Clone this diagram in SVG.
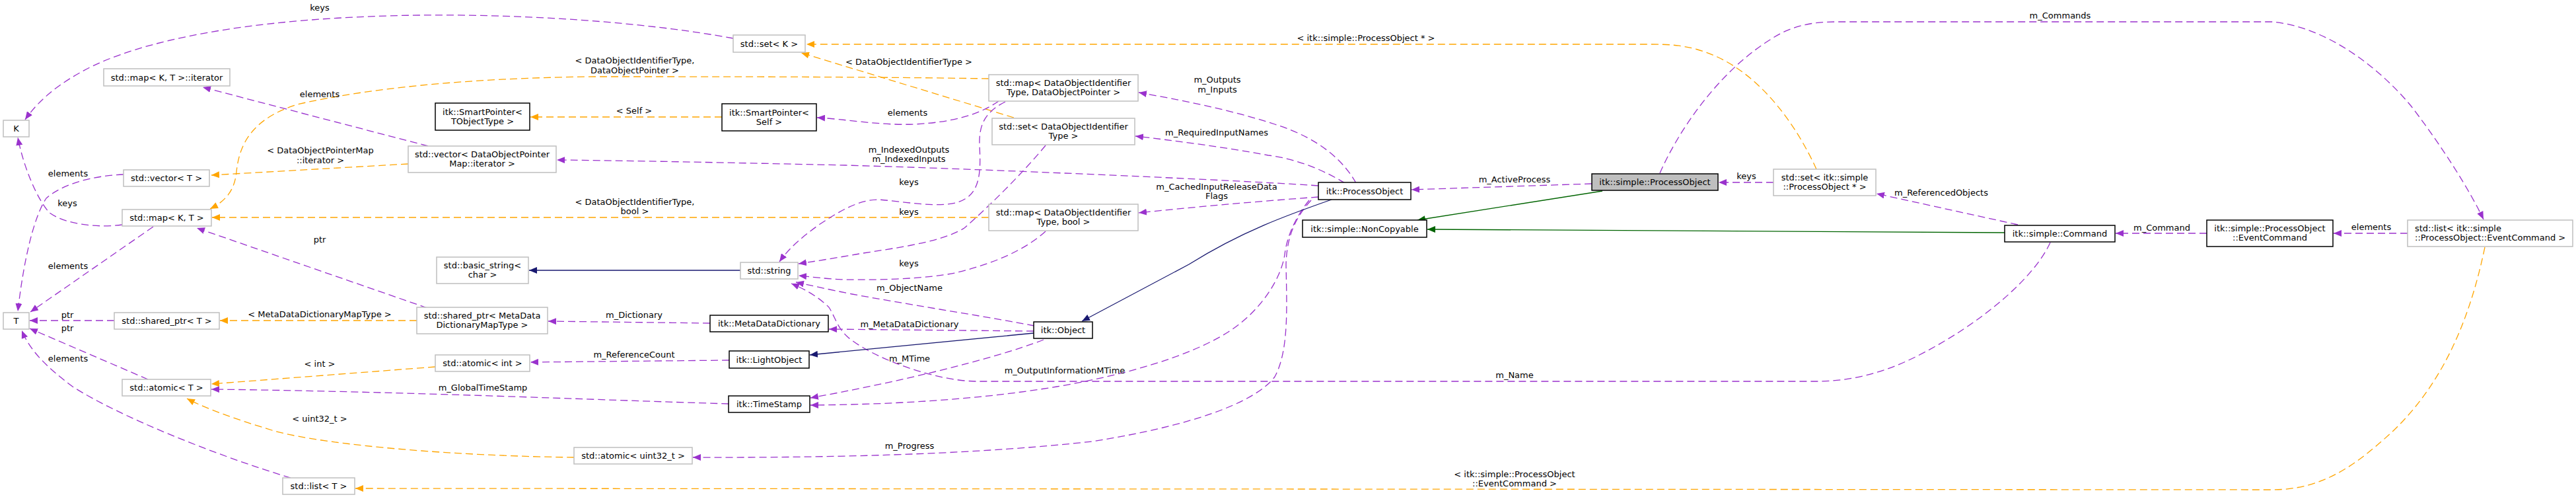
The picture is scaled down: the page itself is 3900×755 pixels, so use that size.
<svg xmlns="http://www.w3.org/2000/svg" width="3900" height="755" viewBox="0 0 3900 755">
<style>
text{font-family:"DejaVu Sans","Liberation Sans",sans-serif;font-size:13px;fill:#000}
.c text,text.m{text-anchor:middle}
.gy rect{fill:#fff;stroke:#bfbfbf;stroke-width:1.5}
.bk rect{fill:#fff;stroke:#000;stroke-width:1.5}
.main rect{fill:#bfbfbf;stroke:#000;stroke-width:1.5}
.u{fill:none;stroke:#9a32cd;stroke-width:1.3;stroke-dasharray:11,6}
.t{fill:none;stroke:#ffa500;stroke-width:1.3;stroke-dasharray:11,6}
.i{fill:none;stroke:#191970;stroke-width:1.3}
.g{fill:none;stroke:#006400;stroke-width:1.3}
</style>
<defs>
<marker id="au" viewBox="0 0 12 10" refX="12" refY="5" markerWidth="12" markerHeight="10" markerUnits="userSpaceOnUse" orient="auto"><path d="M0,0 L12,5 L0,10 z" fill="#9a32cd"/></marker>
<marker id="at" viewBox="0 0 12 10" refX="12" refY="5" markerWidth="12" markerHeight="10" markerUnits="userSpaceOnUse" orient="auto"><path d="M0,0 L12,5 L0,10 z" fill="#ffa500"/></marker>
<marker id="ai" viewBox="0 0 12 10" refX="12" refY="5" markerWidth="12" markerHeight="10" markerUnits="userSpaceOnUse" orient="auto"><path d="M0,0 L12,5 L0,10 z" fill="#191970"/></marker>
<marker id="ag" viewBox="0 0 12 10" refX="12" refY="5" markerWidth="12" markerHeight="10" markerUnits="userSpaceOnUse" orient="auto"><path d="M0,0 L12,5 L0,10 z" fill="#006400"/></marker>
</defs>
<rect width="3900" height="755" fill="#fff"/>
<g id="edges">
<path class="u" marker-end="url(#au)" d="M1110,58 C850,10 350,0 140,100 C90,125 60,150 38,181"/>
<path class="u" marker-end="url(#au)" d="M648,221 L307,132"/>
<path class="t" marker-end="url(#at)" d="M1497,119 C1300,116 1100,116 900,116 C700,118 550,135 450,158 C380,180 362,220 358,260 C355,290 340,305 318,316"/>
<path class="t" marker-end="url(#at)" d="M618,248 L320,265"/>
<path class="u" marker-end="url(#au)" d="M187,264 C140,266 95,278 70,300 C50,330 35,400 27,471"/>
<path class="u" marker-end="url(#au)" d="M185,340 C150,345 100,340 75,322 C55,300 35,250 27,208"/>
<path class="u" marker-end="url(#au)" d="M232,343 L46,472"/>
<path class="u" marker-end="url(#au)" d="M647,466 L298,345"/>
<path class="t" marker-end="url(#at)" d="M1497,329 L321,329"/>
<path class="u" marker-end="url(#au)" d="M173,485 L45,485"/>
<path class="t" marker-end="url(#at)" d="M631,485 L333,485"/>
<path class="u" marker-end="url(#au)" d="M224,574 L45,497"/>
<path class="u" marker-end="url(#au)" d="M440,723 C330,690 180,630 110,585 C70,555 45,530 33,500"/>
<path class="t" marker-end="url(#at)" d="M659,555 L320,581"/>
<path class="u" marker-end="url(#au)" d="M1103,611 C900,605 600,592 320,589"/>
<path class="t" marker-end="url(#at)" d="M869,692 C700,690 500,675 415,652 C360,635 315,620 283,603"/>
<path class="t" marker-end="url(#at)" d="M3762,374 C3740,480 3700,580 3620,655 C3570,700 3520,741 3440,741 L538,739"/>
<path class="i" marker-end="url(#ai)" d="M1121,409 L801,409"/>
<path class="u" marker-end="url(#au)" d="M1075,489 L830,486"/>
<path class="u" marker-end="url(#au)" d="M1104,545 L803,548"/>
<path class="t" marker-end="url(#at)" d="M1093,177 L803,177"/>
<path class="t" marker-end="url(#at)" d="M1535,178 L1213,80"/>
<path class="t" marker-end="url(#at)" d="M2750,256 C2720,190 2660,100 2570,75 C2545,68 2525,67 2500,67 L1221,67"/>
<path class="u" marker-end="url(#au)" d="M1512,153 C1480,175 1440,185 1384,188 C1330,190 1280,180 1237,178"/>
<path class="u" marker-end="url(#au)" d="M1522,154 C1490,170 1482,190 1483,220 C1485,260 1485,295 1450,306 C1420,315 1370,305 1330,302 C1300,302 1270,320 1240,340 C1215,358 1195,375 1180,396"/>
<path class="u" marker-end="url(#au)" d="M1583,220 C1550,260 1500,310 1460,345 C1420,370 1330,378 1290,386 C1260,391 1230,396 1209,399"/>
<path class="u" marker-end="url(#au)" d="M1583,350 C1550,380 1500,400 1446,413 C1400,422 1330,424 1280,423 C1250,422 1230,419 1209,417"/>
<path class="u" marker-end="url(#au)" d="M1566,493 C1500,480 1400,465 1290,445 C1255,438 1228,432 1205,427"/>
<path class="u" marker-end="url(#au)" d="M3104,367 C3080,420 3000,490 2900,540 C2850,565 2800,577 2750,577 L1480,577 C1420,577 1330,545 1290,515 C1268,500 1265,480 1255,465 C1240,450 1220,438 1198,429"/>
<path class="u" marker-end="url(#au)" d="M1565,501 L1255,498"/>
<path class="i" marker-end="url(#ai)" d="M1565,504 L1226,537"/>
<path class="u" marker-end="url(#au)" d="M1580,514 C1500,545 1350,580 1227,602"/>
<path class="u" marker-end="url(#au)" d="M1982,303 C1960,330 1948,360 1945,385 C1940,420 1910,470 1860,502 C1800,540 1700,568 1600,585 C1480,605 1350,612 1227,613"/>
<path class="u" marker-end="url(#au)" d="M1985,303 C1960,330 1948,360 1947,400 C1948,460 1952,530 1930,570 C1900,610 1800,645 1653,668 C1500,685 1300,693 1049,692"/>
<path class="i" marker-end="url(#ai)" d="M2016,302 C1950,325 1880,350 1800,400 L1638,486"/>
<path class="u" marker-end="url(#au)" d="M2053,277 C2035,245 2000,210 1930,188 C1860,165 1780,150 1724,140"/>
<path class="u" marker-end="url(#au)" d="M2036,277 C2000,255 1960,240 1920,235 C1850,222 1780,213 1719,206"/>
<path class="u" marker-end="url(#au)" d="M1996,281 C1900,274 1500,256 1280,250 C1100,246 950,243 843,242"/>
<path class="u" marker-end="url(#au)" d="M1996,298 C1900,305 1800,314 1724,322"/>
<path class="u" marker-end="url(#au)" d="M2410,278 L2137,287"/>
<path class="g" marker-end="url(#ag)" d="M2426,289 L2146,333"/>
<path class="g" marker-end="url(#ag)" d="M3035,352 L2161,347"/>
<path class="u" marker-end="url(#au)" d="M2685,276 L2602,276"/>
<path class="u" marker-end="url(#au)" d="M2513,262 C2540,200 2600,110 2680,60 C2710,40 2740,33 2780,33 L3440,33 C3520,40 3600,100 3650,160 C3700,225 3740,290 3760,332"/>
<path class="u" marker-end="url(#au)" d="M3055,340 L2841,293"/>
<path class="u" marker-end="url(#au)" d="M3341,353 L3203,353"/>
<path class="u" marker-end="url(#au)" d="M3645,353 L3533,353"/>
<g id="edge-labels">
<text class="m" x="484" y="16">keys</text>
<text class="m" x="484" y="147">elements</text>
<text class="m" x="961" y="96">&lt; DataObjectIdentifierType,</text>
<text class="m" x="961" y="111">DataObjectPointer &gt;</text>
<text class="m" x="960" y="172">&lt; Self &gt;</text>
<text class="m" x="485" y="232">&lt; DataObjectPointerMap</text>
<text class="m" x="485" y="247">::iterator &gt;</text>
<text class="m" x="103" y="267">elements</text>
<text class="m" x="102" y="312">keys</text>
<text class="m" x="961" y="310">&lt; DataObjectIdentifierType,</text>
<text class="m" x="961" y="324">bool &gt;</text>
<text class="m" x="484" y="367">ptr</text>
<text class="m" x="103" y="407">elements</text>
<text class="m" x="102" y="481">ptr</text>
<text class="m" x="484" y="480">&lt; MetaDataDictionaryMapType &gt;</text>
<text class="m" x="102" y="501">ptr</text>
<text class="m" x="103" y="547">elements</text>
<text class="m" x="484" y="555">&lt; int &gt;</text>
<text class="m" x="731" y="591">m_GlobalTimeStamp</text>
<text class="m" x="484" y="638">&lt; uint32_t &gt;</text>
<text class="m" x="960" y="481">m_Dictionary</text>
<text class="m" x="960" y="541">m_ReferenceCount</text>
<text class="m" x="1376" y="98">&lt; DataObjectIdentifierType &gt;</text>
<text class="m" x="1374" y="175">elements</text>
<text class="m" x="1376" y="231">m_IndexedOutputs</text>
<text class="m" x="1376" y="245">m_IndexedInputs</text>
<text class="m" x="1376" y="280">keys</text>
<text class="m" x="1376" y="325">keys</text>
<text class="m" x="1376" y="403">keys</text>
<text class="m" x="1377" y="440">m_ObjectName</text>
<text class="m" x="1377" y="495">m_MetaDataDictionary</text>
<text class="m" x="1377" y="547">m_MTime</text>
<text class="m" x="1612" y="565">m_OutputInformationMTime</text>
<text class="m" x="1377" y="679">m_Progress</text>
<text class="m" x="1843" y="125">m_Outputs</text>
<text class="m" x="1843" y="140">m_Inputs</text>
<text class="m" x="1842" y="205">m_RequiredInputNames</text>
<text class="m" x="1842" y="287">m_CachedInputReleaseData</text>
<text class="m" x="1842" y="301">Flags</text>
<text class="m" x="2068" y="62">&lt; itk::simple::ProcessObject * &gt;</text>
<text class="m" x="2293" y="276">m_ActiveProcess</text>
<text class="m" x="2293" y="572">m_Name</text>
<text class="m" x="2293" y="722">&lt; itk::simple::ProcessObject</text>
<text class="m" x="2293" y="736">::EventCommand &gt;</text>
<text class="m" x="2644" y="271">keys</text>
<text class="m" x="3119" y="28">m_Commands</text>
<text class="m" x="2939" y="296">m_ReferencedObjects</text>
<text class="m" x="3273" y="349">m_Command</text>
<text class="m" x="3590" y="348">elements</text>
</g>
</g>
<g id="n_K" class="gy c"><rect x="5" y="182" width="39" height="25"/><text x="24.5" y="199">K</text></g>
<g id="n_T" class="gy c"><rect x="5" y="473" width="39" height="25"/><text x="24.5" y="490">T</text></g>
<g id="n_map_iter" class="gy c"><rect x="157" y="104" width="191" height="26"/><text x="252.5" y="121.5">std::map&lt; K, T &gt;::iterator</text></g>
<g id="n_vector_T" class="gy c"><rect x="187" y="257" width="130" height="25"/><text x="252" y="274">std::vector&lt; T &gt;</text></g>
<g id="n_map_KT" class="gy c"><rect x="185" y="317" width="135" height="25"/><text x="252.5" y="334">std::map&lt; K, T &gt;</text></g>
<g id="n_shared_ptr_T" class="gy c"><rect x="173" y="473" width="159" height="25"/><text x="252.5" y="490">std::shared_ptr&lt; T &gt;</text></g>
<g id="n_atomic_T" class="gy c"><rect x="185" y="574" width="134" height="25"/><text x="252" y="591">std::atomic&lt; T &gt;</text></g>
<g id="n_list_T" class="gy c"><rect x="428" y="723" width="109" height="25"/><text x="482.5" y="740">std::list&lt; T &gt;</text></g>
<g id="n_vector_dopm" class="gy c"><rect x="618" y="221" width="224" height="40"/><text x="730" y="238">std::vector&lt; DataObjectPointer</text><text x="730" y="252">Map::iterator &gt;</text></g>
<g id="n_sp_tobj" class="bk c"><rect x="659" y="156" width="143" height="41"/><text x="730.5" y="173.5">itk::SmartPointer&lt;</text><text x="730.5" y="187.5">TObjectType &gt;</text></g>
<g id="n_basic_string" class="gy c"><rect x="661" y="389" width="139" height="40"/><text x="730.5" y="406">std::basic_string&lt;</text><text x="730.5" y="420">char &gt;</text></g>
<g id="n_shared_ptr_mdd" class="gy c"><rect x="631" y="465" width="198" height="40"/><text x="730" y="482">std::shared_ptr&lt; MetaData</text><text x="730" y="496">DictionaryMapType &gt;</text></g>
<g id="n_atomic_int" class="gy c"><rect x="659" y="537" width="143" height="25"/><text x="730.5" y="554">std::atomic&lt; int &gt;</text></g>
<g id="n_set_K" class="gy c"><rect x="1110" y="53" width="109" height="26"/><text x="1164.5" y="70.5">std::set&lt; K &gt;</text></g>
<g id="n_sp_self" class="bk c"><rect x="1093" y="157" width="143" height="41"/><text x="1164.5" y="174.5">itk::SmartPointer&lt;</text><text x="1164.5" y="188.5">Self &gt;</text></g>
<g id="n_string" class="gy c"><rect x="1121" y="397" width="87" height="25"/><text x="1164.5" y="414">std::string</text></g>
<g id="n_mdd" class="bk c"><rect x="1075" y="477" width="179" height="25"/><text x="1164.5" y="494">itk::MetaDataDictionary</text></g>
<g id="n_lightobject" class="bk c"><rect x="1104" y="531" width="121" height="26"/><text x="1164.5" y="548.5">itk::LightObject</text></g>
<g id="n_timestamp" class="bk c"><rect x="1103" y="599" width="123" height="25"/><text x="1164.5" y="616">itk::TimeStamp</text></g>
<g id="n_atomic_u32" class="gy c"><rect x="869" y="677" width="179" height="25"/><text x="958.5" y="694">std::atomic&lt; uint32_t &gt;</text></g>
<g id="n_map_dop" class="gy c"><rect x="1497" y="113" width="226" height="40"/><text x="1610" y="130">std::map&lt; DataObjectIdentifier</text><text x="1610" y="144">Type, DataObjectPointer &gt;</text></g>
<g id="n_set_doit" class="gy c"><rect x="1502" y="179" width="216" height="40"/><text x="1610" y="196">std::set&lt; DataObjectIdentifier</text><text x="1610" y="210">Type &gt;</text></g>
<g id="n_map_bool" class="gy c"><rect x="1497" y="309" width="226" height="40"/><text x="1610" y="326">std::map&lt; DataObjectIdentifier</text><text x="1610" y="340">Type, bool &gt;</text></g>
<g id="n_object" class="bk c"><rect x="1565" y="487" width="89" height="25"/><text x="1609.5" y="504">itk::Object</text></g>
<g id="n_processobject" class="bk c"><rect x="1996" y="276" width="140" height="26"/><text x="2066" y="293.5">itk::ProcessObject</text></g>
<g id="n_noncopyable" class="bk c"><rect x="1972" y="333" width="188" height="26"/><text x="2066" y="350.5">itk::simple::NonCopyable</text></g>
<g id="n_simple_po" class="main c"><rect x="2410" y="263" width="191" height="25"/><text x="2505.5" y="280">itk::simple::ProcessObject</text></g>
<g id="n_set_po" class="gy c"><rect x="2685" y="256" width="155" height="40"/><text x="2762.5" y="273">std::set&lt; itk::simple</text><text x="2762.5" y="287">::ProcessObject * &gt;</text></g>
<g id="n_command" class="bk c"><rect x="3035" y="341" width="167" height="25"/><text x="3118.5" y="358">itk::simple::Command</text></g>
<g id="n_eventcommand" class="bk c"><rect x="3341" y="333" width="191" height="40"/><text x="3436.5" y="350">itk::simple::ProcessObject</text><text x="3436.5" y="364">::EventCommand</text></g>
<g id="n_list_ec" class="gy"><rect x="3645" y="333" width="250" height="40"/><text x="3656" y="350">std::list&lt; itk::simple</text><text x="3656" y="364">::ProcessObject::EventCommand &gt;</text></g>
</svg>
